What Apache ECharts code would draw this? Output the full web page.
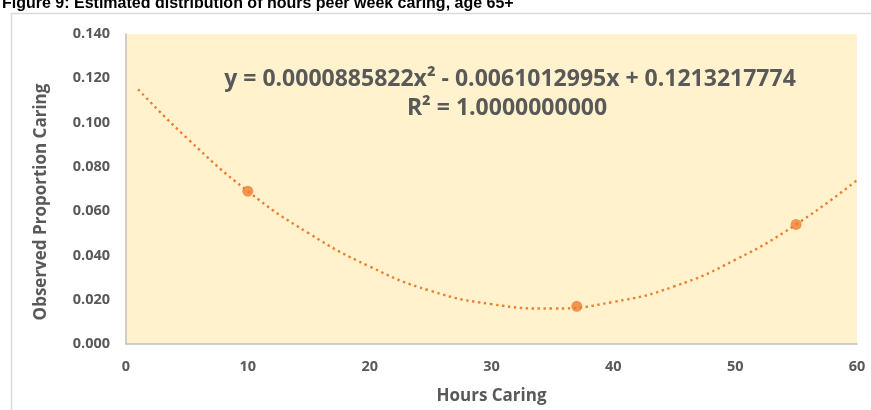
<!DOCTYPE html>
<html>
<head>
<meta charset="utf-8">
<script src="https://cdn.jsdelivr.net/npm/echarts@6/dist/echarts.min.js"></script>
<style>
  html, body { margin: 0; padding: 0; background: #ffffff; }
  #chart { width: 871px; height: 410px; }
</style>
</head>
<body>
<div id="chart"></div>
<script>
// observed points
const observedHours = [10, 37, 55];
const observedProportion = [0.069, 0.017, 0.054];

// polynomial trend line
const trendHours = [1, 5, 10, 15, 20, 25, 30, 35, 40, 45, 50, 55, 60];
const trendProportion = [0.115, 0.093, 0.069, 0.050, 0.035, 0.024, 0.018, 0.016, 0.019, 0.026, 0.038, 0.054, 0.074];

const titleText = "Figure 9: Estimated distribution of hours peer week caring, age 65+";
const equationText = "y = 0.0000885822x² - 0.0061012995x + 0.1213217774";
const rSquaredText = "R² = 1.0000000000";

const orange = "#ed7d31";
const labelGray = "#595959";
const axisFont = "Open Sans";

const chart = echarts.init(document.getElementById("chart"));

chart.setOption({
  animation: false,
  backgroundColor: "#ffffff",
  grid: { left: 126, right: 14, top: 34, bottom: 66, show: true, backgroundColor: "#fff2cc", borderWidth: 0 },
  xAxis: {
    type: "value",
    min: 0,
    max: 60,
    interval: 10,
    name: "Hours Caring",
    nameLocation: "middle",
    nameGap: 44,
    nameTextStyle: { color: labelGray, fontFamily: axisFont, fontWeight: "bold", fontSize: 17 },
    axisLine: { show: true, lineStyle: { color: "#bfbfbf", width: 1.5 } },
    axisTick: { show: false },
    axisLabel: { color: labelGray, fontFamily: axisFont, fontWeight: "bold", fontSize: 14.5, margin: 15 },
    splitLine: { show: false },
  },
  yAxis: {
    type: "value",
    min: 0,
    max: 0.14,
    interval: 0.02,
    name: "Observed Proportion Caring",
    nameLocation: "middle",
    nameGap: 76,
    nameTextStyle: { color: labelGray, fontFamily: axisFont, fontWeight: "bold", fontSize: 17, padding: [0, 26, 0, 0] },
    axisLine: { show: true, lineStyle: { color: "#bfbfbf", width: 1.5 } },
    axisTick: { show: false },
    axisLabel: { color: labelGray, fontFamily: axisFont, fontWeight: "bold", fontSize: 14.5, margin: 16, formatter: (v) => v.toFixed(3) },
    splitLine: { show: false },
  },
  graphic: [
    {
      type: "rect",
      silent: true,
      z: -10,
      shape: { x: 11.5, y: 13.5, width: 900, height: 500 },
      style: { fill: null, stroke: "#d9d9d9", lineWidth: 1.5 },
    },
    {
      type: "text",
      x: 2,
      y: 12,
      style: { text: titleText, font: "bold 16px 'Liberation Sans'", fill: "#000000", verticalAlign: "bottom" },
    },
    {
      type: "text",
      x: 510,
      y: 79,
      style: { text: equationText, font: "bold 23px 'Open Sans'", fill: labelGray, align: "center", verticalAlign: "middle" },
    },
    {
      type: "text",
      x: 507,
      y: 108,
      style: { text: rSquaredText, font: "bold 23px 'Open Sans'", fill: labelGray, align: "center", verticalAlign: "middle" },
    },
  ],
  series: [
    {
      name: "Trend",
      type: "line",
      smooth: true,
      symbol: "none",
      data: trendHours.map((h, i) => [h, trendProportion[i]]),
      lineStyle: { color: orange, width: 2.4, type: [2.4, 3.6] },
      z: 2,
    },
    {
      name: "Observed",
      type: "scatter",
      symbolSize: 11,
      data: observedHours.map((h, i) => [h, observedProportion[i]]),
      itemStyle: { color: orange },
      z: 3,
    },
  ],
});
</script>
</body>
</html>
